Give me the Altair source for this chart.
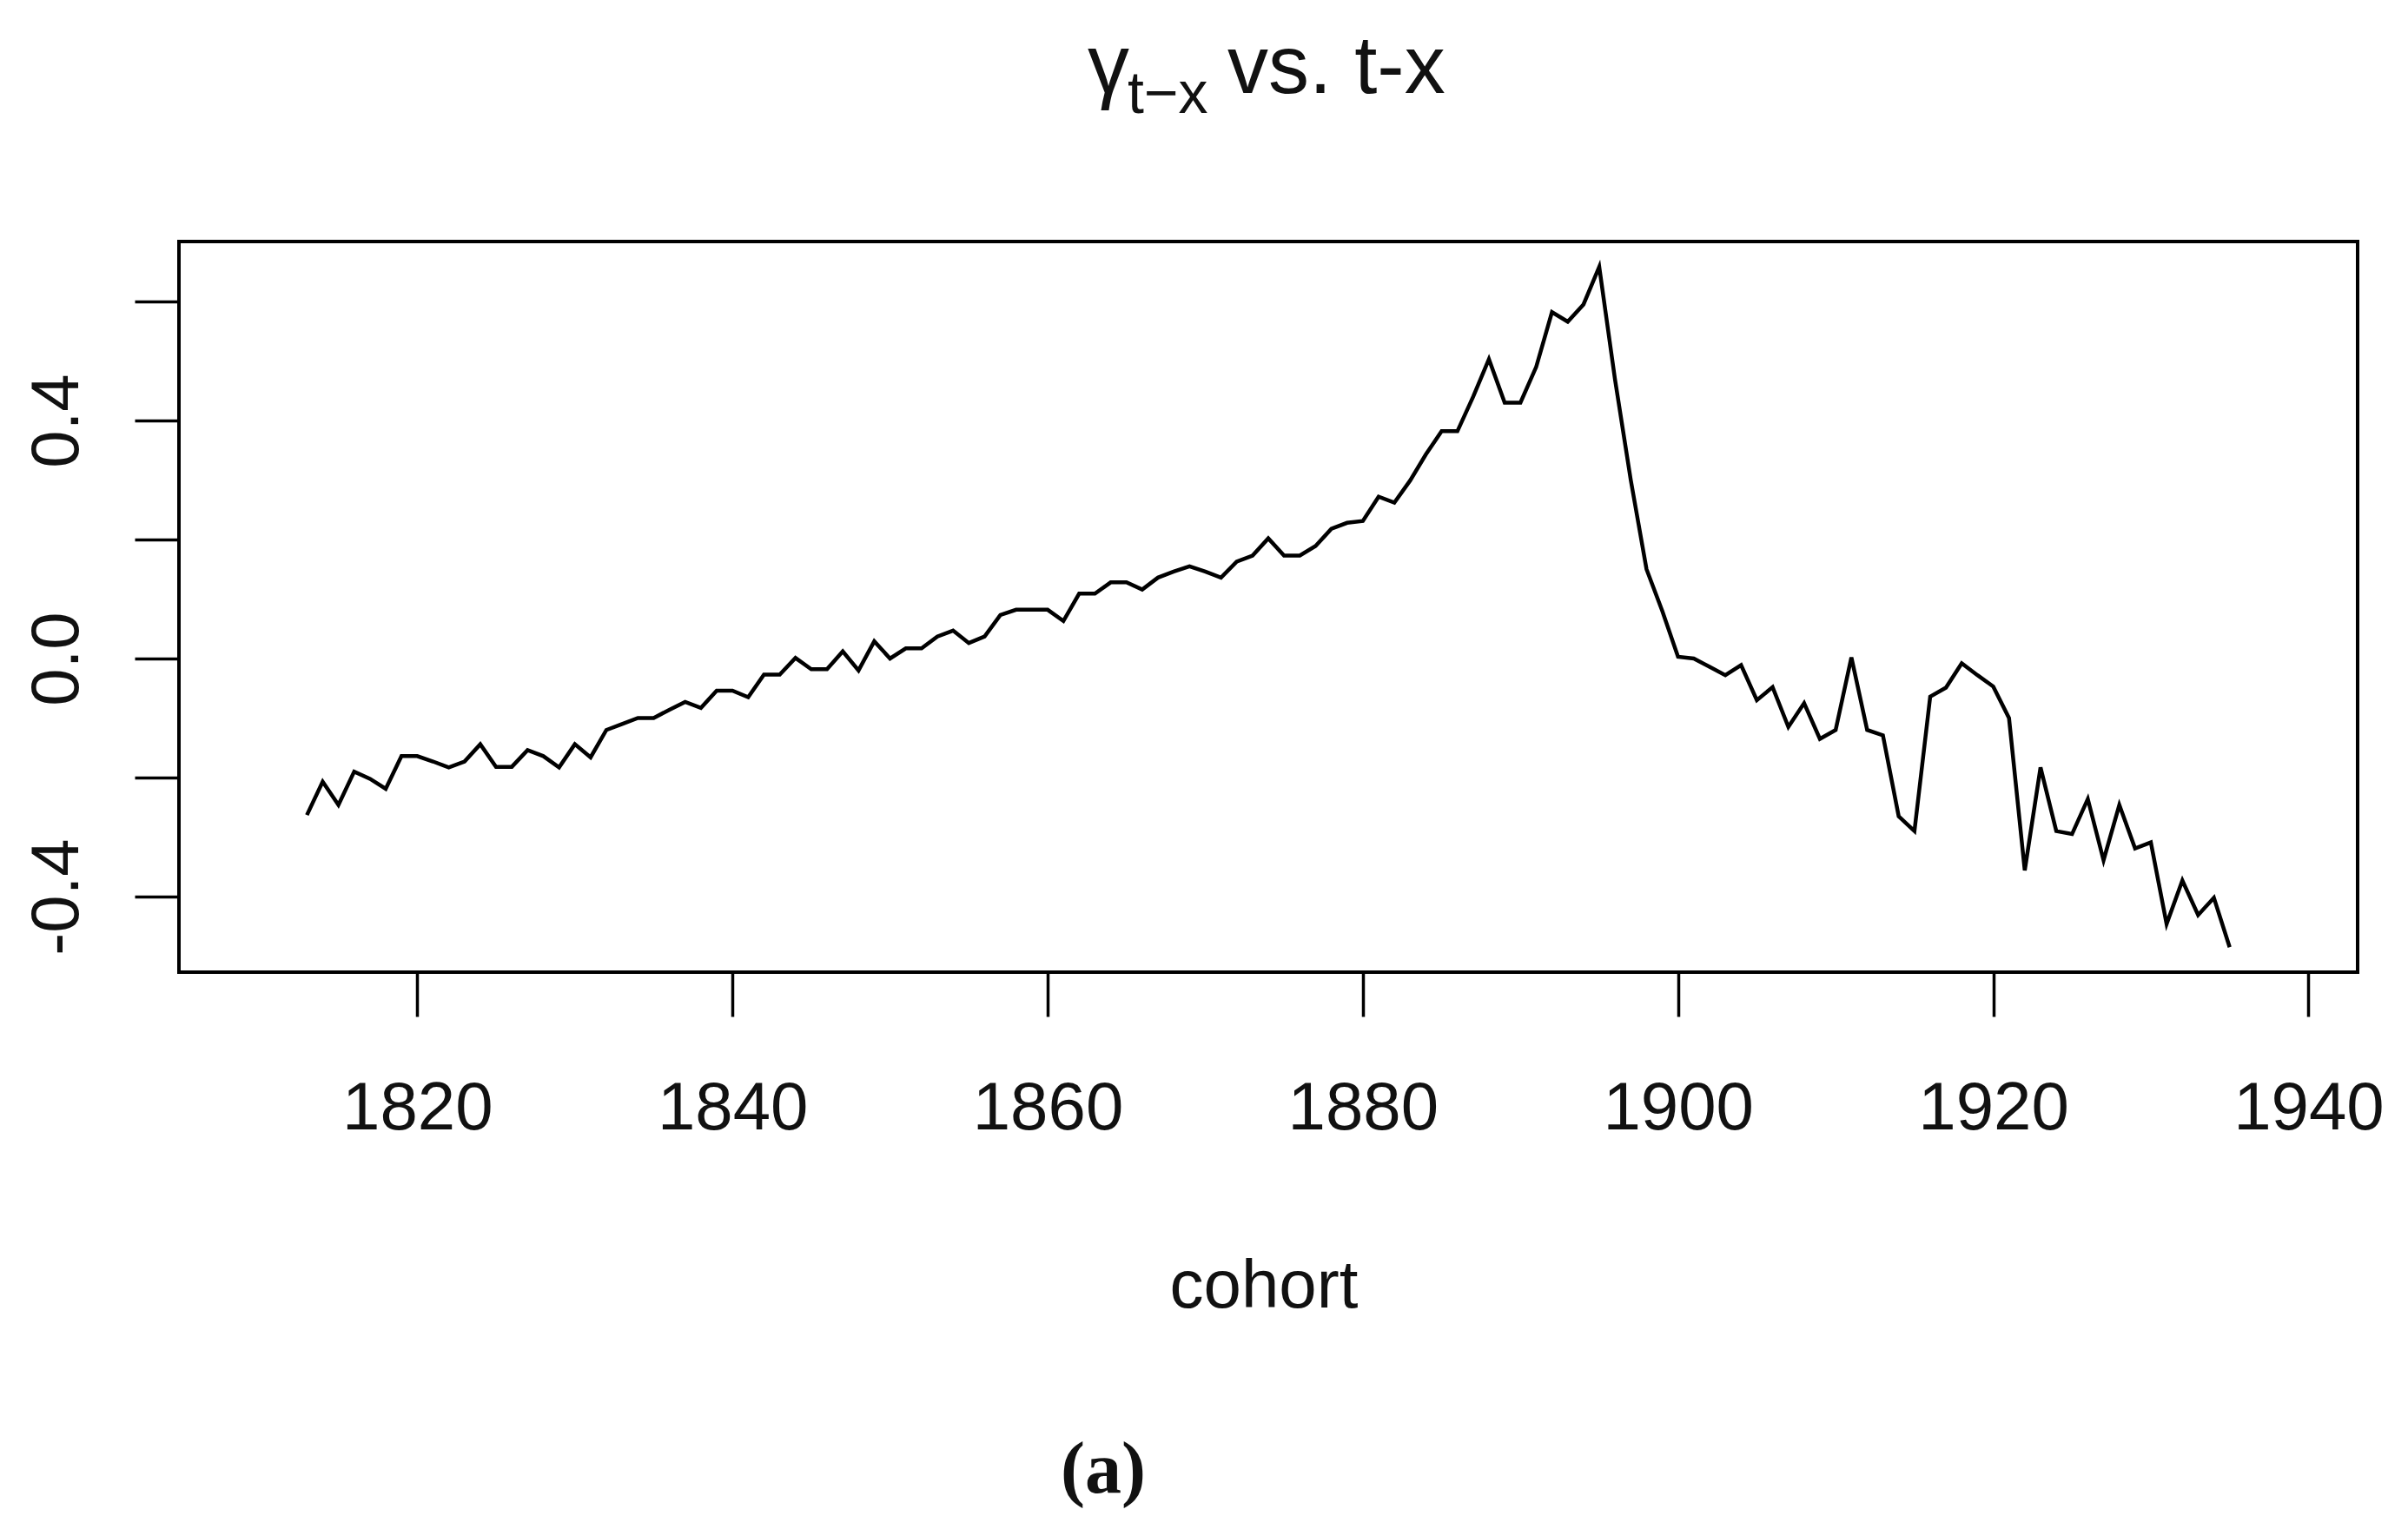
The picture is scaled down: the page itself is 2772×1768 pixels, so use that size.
import altair as alt
import pandas as pd

# ---- data ----
cohort = list(range(1813, 1936))
gamma = [
    -0.263, -0.207, -0.246, -0.190, -0.202, -0.219, -0.164, -0.164, -0.173, -0.183,  # 1813-1822
    -0.173, -0.144, -0.182, -0.182, -0.154, -0.164, -0.183, -0.144, -0.166, -0.120,  # 1823-1832
    -0.110, -0.100, -0.100, -0.086, -0.073, -0.083, -0.054, -0.054, -0.065, -0.027,  # 1833-1842
    -0.027, 0.001, -0.018, -0.018, 0.012, -0.020, 0.029, 0.000, 0.017, 0.017,        # 1843-1852
    0.037, 0.047, 0.026, 0.037, 0.073, 0.082, 0.082, 0.082, 0.063, 0.109,            # 1853-1862
    0.109, 0.128, 0.128, 0.116, 0.136, 0.146, 0.155, 0.146, 0.136, 0.163,            # 1863-1872
    0.173, 0.202, 0.173, 0.173, 0.189, 0.218, 0.228, 0.231, 0.272, 0.262,            # 1873-1882
    0.299, 0.343, 0.382, 0.382, 0.440, 0.503, 0.430, 0.430, 0.490, 0.582,            # 1883-1892
    0.566, 0.595, 0.658, 0.469, 0.300, 0.150, 0.080, 0.003, 0.000, -0.014,           # 1893-1902
    -0.028, -0.011, -0.070, -0.048, -0.115, -0.075, -0.135, -0.120, 0.002, -0.120,   # 1903-1912
    -0.129, -0.265, -0.290, -0.064, -0.049, -0.008, -0.028, -0.047, -0.100, -0.356,  # 1913-1922
    -0.183, -0.290, -0.295, -0.236, -0.339, -0.246, -0.319, -0.309, -0.446, -0.373,  # 1923-1932
    -0.431, -0.402, -0.485,                                                          # 1933-1935
]

x_ticks = [1820, 1840, 1860, 1880, 1900, 1920, 1940]
y_ticks = [-0.4, -0.2, 0.0, 0.2, 0.4, 0.6]
y_label_values = [-0.4, 0.0, 0.4]
y_label_texts = ["-0.4", "0.0", "0.4"]

title_symbol = ["γ"]
title_sub = ["t−x"]
title_rest = ["vs. t-x"]
x_title = ["cohort"]
caption = ["(a)"]

df = pd.DataFrame({"cohort": cohort, "gamma": gamma})

# ---- layout ----
W, H = 2508, 841
FONT = "Liberation Sans"

label_expr = " : ".join(
    f"abs(datum.value - ({v})) < 1e-6 ? '{t}'" for v, t in zip(y_label_values, y_label_texts)
) + " : ''"

line = alt.Chart(df).mark_line(color="black", strokeWidth=4.5).encode(
    x=alt.X(
        "cohort:Q",
        scale=alt.Scale(domain=[1804.88, 1943.12], nice=False, zero=False),
        axis=alt.Axis(
            values=x_ticks, title=None, domain=False, grid=False,
            tickSize=51, tickWidth=3.5, tickColor="black",
            labelFont=FONT, labelFontSize=78, labelColor="#111111",
            labelPadding=67, labelBaseline="top", labelFlush=False,
            labelOverlap=False, format="d",
        ),
    ),
    y=alt.Y(
        "gamma:Q",
        scale=alt.Scale(domain=[-0.527, 0.7007], nice=False, zero=False),
        axis=alt.Axis(
            values=y_ticks, title=None, domain=False, grid=False,
            tickSize=51, tickWidth=3.5, tickColor="black",
            labelFont=FONT, labelFontSize=78, labelColor="#111111",
            labelAngle=270, labelAlign="center", labelBaseline="alphabetic",
            labelPadding=66, labelFlush=False, labelOverlap=False,
            labelExpr=label_expr,
        ),
    ),
)


def text_layer(values, x, y, size, align="left", font=FONT, weight="normal"):
    return alt.Chart(pd.DataFrame({"label": values})).mark_text(
        align=align, baseline="alphabetic", font=font, fontSize=size,
        fontWeight=weight, color="#111111",
    ).encode(text="label:N", x=alt.value(x), y=alt.value(y))


t_sym = text_layer(title_symbol, 1046, -171, 96)
t_sub = text_layer(title_sub, 1092, -148, 68)
t_rest = text_layer(title_rest, 1207, -171, 94)
t_x = text_layer(x_title, W / 2 - 5, 1227, 78, align="center")
t_cap = text_layer(caption, 1064, 1440, 84, align="center", font="Liberation Serif", weight="bold")

chart = alt.layer(line, t_sym, t_sub, t_rest, t_x, t_cap).properties(
    width=W,
    height=H,
    autosize=alt.AutoSizeParams(type="none"),
    padding={"left": 198, "top": 270, "right": 40, "bottom": 630},
    background="white",
).configure_view(stroke="black", strokeWidth=4)

chart.save("out.html", embed_options={"renderer": "svg", "actions": False})
